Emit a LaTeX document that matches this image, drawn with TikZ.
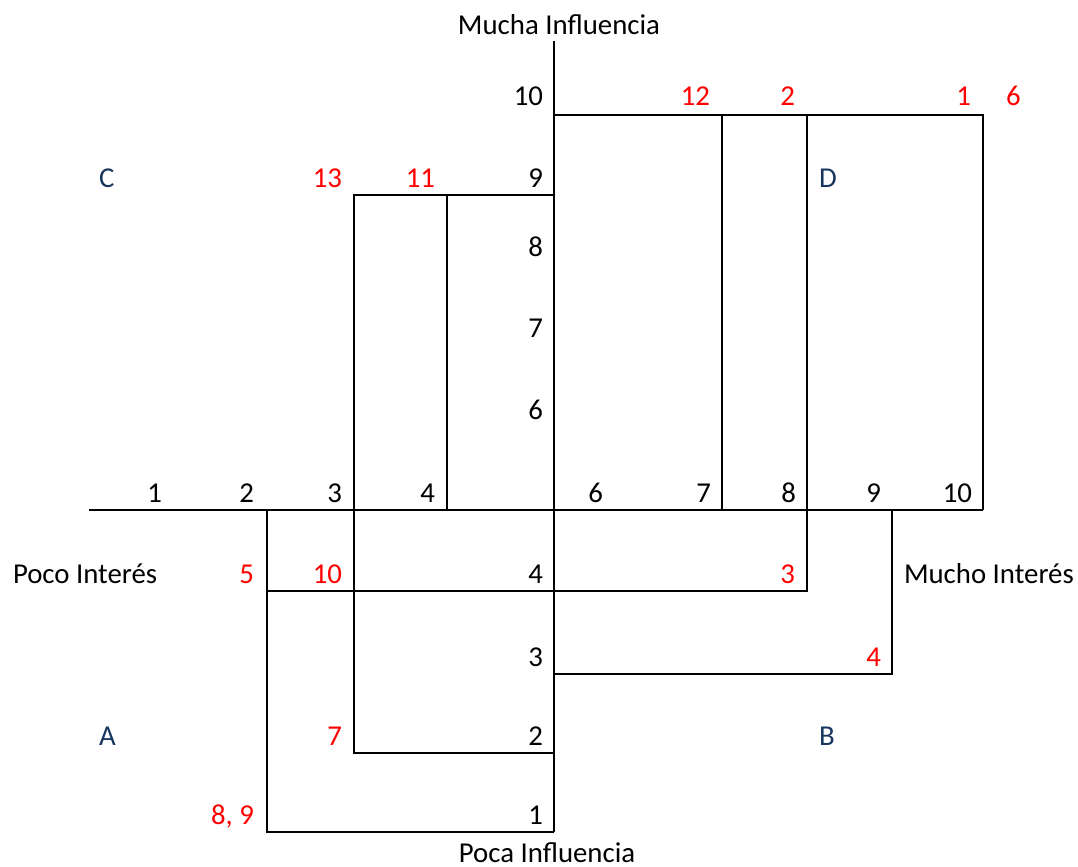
\documentclass[tikz,border=0pt]{standalone}
\usepackage{fontspec}
\setmainfont{Carlito}
\usepackage{tikz}
\usetikzlibrary{positioning}
\usepackage{xcolor}
\definecolor{quadblue}{RGB}{23,54,93}

\begin{document}
\begin{tikzpicture}[x=0.5pt,y=-0.5pt,line width=1pt,
  every node/.style={font=\fontsize{14.4}{17}\selectfont,inner sep=0pt},
  tick/.style={anchor=base east},
  stake/.style={anchor=base east,text=red},
  quad/.style={anchor=base west,text=quadblue}]
\useasboundingbox (0,0) rectangle (1078,867);
% ejes
\coordinate (left) at (89,510);
\coordinate (right) at (983,510);
\coordinate (top) at (554,41);
\coordinate (bottom) at (554,832);
\draw (left) -- (right);
\draw (top) -- (bottom);
% cuadros
\draw (554,115) -- (983,115) -- (983,510);
\draw (722,115) -- (722,510);
\draw (807,115) -- (807,591) -- (267,591);
\draw (354,510) -- (354,195) -- (554,195);
\draw (447,195) -- (447,510);
\draw (892,510) -- (892,674) -- (554,674);
\draw (354,510) -- (354,753) -- (554,753);
\draw (267,510) -- (267,832) -- (554,832);

% escalas
\foreach \v/\x in {1/163,2/255,3/343,4/436,6/604,7/712,8/797,9/882,10/973}
  \node[tick] (x\v) at (\x,502) {\v};
\foreach \v/\y in {10/105,9/187,8/256,7/337,6/419,4/583,3/666,2/745,1/824}
  \node[tick] (y\v) at (544,\y) {\v};

% interesados
\foreach \s/\x/\y in {12/711/105,2/796/105,1/972/105,13/343/187,11/436/187,
    5/255/583,10/343/583,3/796/583,4/882/666,7/343/745}
  \node[stake] (s\s) at (\x,\y) {\s};
\node[stake] (s89) at (255,824) {8, 9};
\node[anchor=base west,text=red] (s6) at (1005,105) {6};

% cuadrantes
\node[quad] (qc) at (98,187) {C};
\node[quad] (qd) at (818,187) {D};
\node[quad] (qa) at (98,745) {A};
\node[quad] (qb) at (818,745) {B};

% titulos
\node[above=2.5pt of top,xshift=2.5pt] (mucha) {Mucha Influencia};
\node[anchor=base] (poca) at (547,862) {Poca Influencia};
\node[anchor=base west] (poco) at (12,583) {Poco Interés};
\node[anchor=base west] (mucho) at (903,583) {Mucho Interés};
\end{tikzpicture}
\end{document}
